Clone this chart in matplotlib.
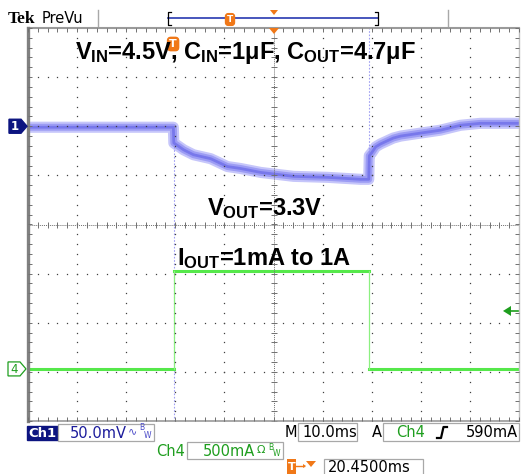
import numpy as np
import matplotlib
matplotlib.use("Agg")
import matplotlib.pyplot as plt
from matplotlib.patches import Rectangle, Polygon

# ch1: output voltage ripple (ms, mV relative to the ch1 marker)
t_ch1 = [-50, -40, -30, -20.4, -20.3, -18.3, -16.3, -12.8, -9.4, -6.7, -2.6, 4.1, 11.0, 17.7, 19.4,
         19.5, 20.0, 20.8, 21.8, 24.4, 25.9, 29.9, 34.0, 38.1, 42.2, 50]
mv_ch1 = [-1, -1, -1, -1, -17, -24, -29, -33, -41, -43, -47, -51, -52, -54, -54,
          -30, -27, -21, -18, -12, -10, -7, -4, 1, 3, 3]
# fast transients at the load edges (go off screen)
spike_t = [-20.35, 19.45]
spike_from = [-17, -54]
spike_to = [-400, 200]

# ch4: load current steps (ms edges, A levels)
t_edges = [-50, -20.35, 19.45, 50]
i_levels = [0.0, 1.0, 0.0]

CH1_SCALE = 50.0   # mV/div
CH4_SCALE = 0.5    # A/div
CH1_POS = 2.0
CH4_POS = -2.94
TRIG_LEVEL = 0.59  # A

GREEN = "#55e84a"
DGREEN = "#1e9e1e"
NAVY = "#0c1480"
ORANGE = "#f07818"
GREY = "#9a9a9a"

plt.rcParams["mathtext.fontset"] = "custom"
plt.rcParams["mathtext.rm"] = "Liberation Sans:bold"
plt.rcParams["mathtext.it"] = "Liberation Sans:bold"
plt.rcParams["mathtext.bf"] = "Liberation Sans:bold"

fig = plt.figure(figsize=(5.21, 4.74), dpi=100)
fig.patch.set_facecolor("white")

gx = fig.add_axes([28 / 521, 53 / 474, 491 / 521, 393 / 474])
gx.set_xlim(-50, 50)
gx.set_ylim(-4, 4)
gx.axis("off")

# traces: ch1 drawn as a noise band (light halo + darker core)
y1 = [CH1_POS + v / CH1_SCALE for v in mv_ch1]
gx.plot(t_ch1, y1, color="#c6c6fa", lw=8, solid_joinstyle="round", zorder=2)
gx.plot(t_ch1, y1, color="#9c9cf4", lw=5, solid_joinstyle="round", zorder=2)
gx.plot(t_ch1, y1, color="#7474ea", lw=2, alpha=0.9, solid_joinstyle="round", zorder=3)
for st, sf, sto in zip(spike_t, spike_from, spike_to):
    gx.plot([st, st], [CH1_POS + sf / CH1_SCALE, CH1_POS + sto / CH1_SCALE],
            color="#8a8af0", lw=0.8, ls=(0, (1.5, 1.5)), alpha=0.8, zorder=2)

for i, lev in enumerate(i_levels):
    yl = CH4_POS + lev / CH4_SCALE
    gx.plot([t_edges[i], t_edges[i + 1]], [yl, yl], color=GREEN, lw=2.2, zorder=3)
for i in range(1, len(t_edges) - 1):
    gx.plot([t_edges[i], t_edges[i]],
            [CH4_POS + i_levels[i - 1] / CH4_SCALE, CH4_POS + i_levels[i] / CH4_SCALE],
            color="#8cf080", lw=0.9, zorder=3)

# graticule
dot_c = "#404040"
ydots = np.arange(-4, 4.001, 0.2)
xdots = np.arange(-50, 50.001, 2)
for tx in range(-40, 50, 10):
    if tx != 0:
        gx.plot([tx] * len(ydots), ydots, "s", ms=0.9, color=dot_c, mew=0, zorder=5)
for yy in range(-3, 4):
    if yy != 0:
        gx.plot(xdots, [yy] * len(xdots), "s", ms=0.9, color=dot_c, mew=0, zorder=5)
gx.plot([-50, 50], [0, 0], color="#707070", lw=0.7, ls=(0, (1, 1)), zorder=5)
gx.plot([0, 0], [-4, 4], color="#707070", lw=0.7, ls=(0, (1, 1)), zorder=5)
gx.plot(xdots, [0] * len(xdots), "|", ms=4, mew=0.7, color="#707070", zorder=5)
gx.plot([0] * len(ydots), ydots, "_", ms=4, mew=0.7, color="#707070", zorder=5)

# frame
gx.plot([-50, 50], [4, 4], color=GREY, lw=1.5, clip_on=False, zorder=6)
gx.plot([-50, 50], [-4, -4], color=GREY, lw=1.2, clip_on=False, zorder=6)
gx.plot([50, 50], [-4, 4], color="#c0c0c0", lw=1.0, clip_on=False, zorder=6)
gx.plot([-50, -50], [-4, 4], color="#808080", lw=2.4, clip_on=False, zorder=6)
gx.plot(xdots, [4] * len(xdots), ls="none", marker=3, ms=3, mew=0.7, color="#707070", clip_on=False, zorder=6)
gx.plot(xdots, [-4] * len(xdots), ls="none", marker=2, ms=3, mew=0.7, color="#707070", clip_on=False, zorder=6)
gx.plot([50] * len(ydots), ydots, ls="none", marker=0, ms=3, mew=0.7, color="#707070", clip_on=False, zorder=6)
gx.plot([-50] * len(ydots), ydots, ls="none", marker=1, ms=3, mew=0.7, color="#707070", clip_on=False, zorder=6)

# screen furniture in pixel coordinates
ui = fig.add_axes([0, 0, 1, 1], zorder=3)
ui.set_xlim(0, 521)
ui.set_ylim(474, 0)
ui.axis("off")

def t2x(t):
    return 28 + (t + 50) * 4.91

ui.text(8, 23, "Tek", family="Liberation Serif", weight="bold", fontsize=12.5, va="baseline")
ui.text(42, 23, "PreVu", family="DejaVu Sans", fontsize=10.5, va="baseline")
ui.plot([98, 98], [10, 26], color="#a8a8a8", lw=1)
ui.plot([448, 448], [10, 26], color="#a8a8a8", lw=1)
ui.plot([168, 378], [18, 18], color="#2838b0", lw=1.2)
ui.plot([171, 168, 168, 171], [12, 12, 25, 25], color="black", lw=0.9)
ui.plot([375, 378, 378, 375], [12, 12, 25, 25], color="black", lw=0.9)
ui.text(230, 19.5, "T", color="white", fontsize=6.5, weight="bold", ha="center", va="center",
        bbox=dict(boxstyle="round,pad=0.15,rounding_size=0.3", fc=ORANGE, ec=ORANGE))
ui.add_patch(Polygon([[270, 10], [278, 10], [274, 15]], closed=True, fc=ORANGE, ec="none"))
ui.add_patch(Polygon([[269, 28], [279, 28], [274, 34]], closed=True, fc=ORANGE, ec="none", zorder=7))

# trigger point marker
ui.text(t2x(spike_t[0] - 0.1), 44, "T", color="white", fontsize=8, weight="bold", ha="center", va="center",
        bbox=dict(boxstyle="round,pad=0.15,rounding_size=0.3", fc=ORANGE, ec=ORANGE), zorder=8)

# channel markers
y_ch1 = 224.5 - CH1_POS * 49.125
ui.add_patch(Polygon([[9, y_ch1 - 7], [21, y_ch1 - 7], [27, y_ch1], [21, y_ch1 + 7], [9, y_ch1 + 7]],
                     closed=True, fc=NAVY, ec=NAVY))
ui.text(15, y_ch1 + 0.5, "1", color="white", fontsize=8.5, weight="bold", ha="center", va="center")
y_ch4 = 224.5 - CH4_POS * 49.125
ui.add_patch(Polygon([[8, y_ch4 - 7], [20, y_ch4 - 7], [26, y_ch4], [20, y_ch4 + 7], [8, y_ch4 + 7]],
                     closed=True, fc="white", ec=DGREEN, lw=0.9))
ui.text(14, y_ch4 + 0.5, "4", color=DGREEN, fontsize=8.5, ha="center", va="center")

# trigger level arrow
y_tr = 224.5 - (CH4_POS + TRIG_LEVEL / CH4_SCALE) * 49.125
ui.add_patch(Polygon([[503, y_tr], [511, y_tr - 5], [511, y_tr + 5]], closed=True, fc=DGREEN, ec="none"))
ui.plot([510, 518], [y_tr, y_tr], color=DGREEN, lw=1.2)

# labels on the screen
ui.text(75, 59, r"$V_{IN}$=4.5V, $C_{IN}$=1μF, $C_{OUT}$=4.7μF", family="Liberation Sans",
        weight="bold", fontsize=17, va="baseline", zorder=9)
ui.text(207, 215, r"$V_{OUT}$=3.3V", family="Liberation Sans", weight="bold", fontsize=17,
        va="baseline", zorder=9)
ui.text(177, 265, r"$I_{OUT}$=1mA to 1A", family="Liberation Sans", weight="bold", fontsize=17,
        va="baseline", zorder=9)

# readouts
fs = 10.5
ui.add_patch(Rectangle((27, 426), 31, 14, fc=NAVY, ec=NAVY))
ui.text(42.5, 433.5, "Ch1", color="white", weight="bold", fontsize=9.5, ha="center", va="center")
ui.add_patch(Rectangle((58, 424), 96, 17, fc="white", ec="#a8a8a8", lw=0.9))
ui.text(70, 433, "50.0mV", color="#1c1c9c", fontsize=fs, va="center")
ui.text(128, 431, "∿", color="#4a4ac8", fontsize=8, va="center")
ui.text(139, 428, "B", color="#4a4ac8", fontsize=5.5, va="center")
ui.text(144, 436, "W", color="#4a4ac8", fontsize=5.5, va="center")

ui.text(156, 451, "Ch4", color=DGREEN, fontsize=fs, va="center")
ui.add_patch(Rectangle((187, 442), 96, 17, fc="white", ec="#a8a8a8", lw=0.9))
ui.text(203, 451, "500mA", color=DGREEN, fontsize=fs, va="center")
ui.text(257, 450, "Ω", color=DGREEN, fontsize=8, va="center")
ui.text(268, 447, "B", color=DGREEN, fontsize=5.5, va="center")
ui.text(273, 454, "W", color=DGREEN, fontsize=5.5, va="center")

ui.text(285, 432.5, "M", color="black", fontsize=fs, va="center")
ui.add_patch(Rectangle((298, 423), 59, 18, fc="white", ec="#a8a8a8", lw=0.9))
ui.text(302, 432.5, "10.0ms", color="black", fontsize=fs, va="center")
ui.text(372, 432.5, "A", color="black", fontsize=fs, va="center")
ui.add_patch(Rectangle((383, 423), 136, 18, fc="white", ec="#a8a8a8", lw=0.9))
ui.text(396, 432.5, "Ch4", color=DGREEN, fontsize=fs, va="center")
ui.plot([437, 441, 443.5, 447], [438, 438, 427, 427], color="black", lw=1.6)
ui.text(518, 432.5, "590mA", color="black", fontsize=fs, ha="right", va="center")

ui.add_patch(Rectangle((287, 459), 9, 16, fc=ORANGE, ec="none"))
ui.text(291.5, 467, "T", color="white", fontsize=8, weight="bold", ha="center", va="center")
ui.plot([296, 304], [466, 466], color=ORANGE, lw=1)
ui.add_patch(Polygon([[303, 464], [306, 466], [303, 468]], closed=True, fc=ORANGE, ec="none"))
ui.add_patch(Polygon([[306, 461], [316, 461], [311, 467]], closed=True, fc=ORANGE, ec="none"))
ui.add_patch(Rectangle((324, 459), 99, 17, fc="white", ec="#a8a8a8", lw=0.9, clip_on=False))
ui.text(328, 467.5, "20.4500ms", color="black", fontsize=fs, va="center")

fig.savefig("out.png", dpi=100, facecolor="white")
